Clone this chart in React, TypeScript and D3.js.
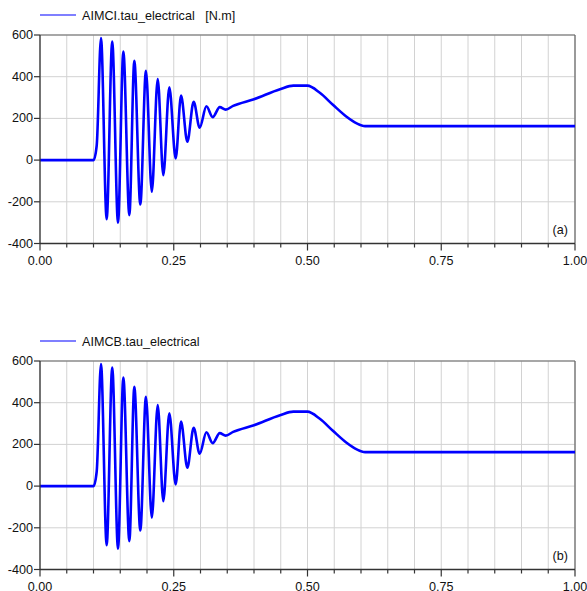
import React from 'react';
import * as d3 from 'd3';

// simulated torque (time in s, torque in N.m)
const timeValues = [
  0, 0.1, 0.106, 0.114, 0.1246, 0.135, 0.1458, 0.1558, 0.167, 0.1763, 0.1875,
  0.198, 0.209, 0.22, 0.2305, 0.2417, 0.2536, 0.2636, 0.2754, 0.2872, 0.2985,
  0.311, 0.3228, 0.336, 0.347, 0.361, 0.4, 0.4486, 0.4735, 0.4997, 0.523,
  0.548, 0.573, 0.592, 0.6075, 1.0,
];
const torqueA = [
  0, 0, 70, 585, -284, 569, -300, 521, -264, 476, -213,
  428, -152, 389, -72, 349, 8, 309, 88, 280, 155,
  258, 206, 254, 242, 260, 292, 340, 357, 357, 323,
  264, 208, 176, 163, 163,
];
const torqueB = torqueA.slice();

const legendA = 'AIMCI.tau_electrical   [N.m]';
const legendB = 'AIMCB.tau_electrical';
const panelTags = ['(a)', '(b)'];

const xTicks = [0, 0.25, 0.5, 0.75, 1];
const xGrid = d3.range(0, 1.0001, 0.05);
const yTicks = [-400, -200, 0, 200, 400, 600];

const left = 40;
const right = 575;
const font = '"Liberation Sans", Arial, sans-serif';
const fs = 12.6;

function Panel({top, values, label, tag}: {top: number; values: number[]; label: string; tag: string}) {
  const x = d3.scaleLinear().domain([0, 1]).range([left, right]);
  const y = d3.scaleLinear().domain([-400, 600]).range([top + 208.5, top]);
  const pts = timeValues.map((t, i) => [t, values[i]] as [number, number]);
  const line = d3.line<[number, number]>()
    .x(d => x(d[0]))
    .y(d => y(d[1]))
    .curve(d3.curveMonotoneX);
  const bottom = y(-400);
  const clipId = 'clip' + top;

  return (
    <g>
      <defs>
        <clipPath id={clipId}>
          <rect x={left} y={top} width={right - left} height={bottom - top} />
        </clipPath>
      </defs>
      {/* legend */}
      <line x1={40} x2={76} y1={top - 20} y2={top - 20} stroke="#0000ff" strokeWidth={1.2} />
      <text x={82} y={top - 15.5} fontFamily={font} fontSize={fs} fill="#111" style={{whiteSpace: 'pre'}}>{label}</text>
      {/* grid */}
      {xGrid.map((t, i) => (
        <line key={'gx' + i} x1={x(t)} x2={x(t)} y1={top} y2={bottom} stroke="#d2d2d2" strokeWidth={1} />
      ))}
      {yTicks.map(v => (
        <line key={'gy' + v} x1={left} x2={right} y1={y(v)} y2={y(v)} stroke="#d2d2d2" strokeWidth={1} />
      ))}
      {/* frame */}
      <line x1={left} x2={right} y1={top} y2={top} stroke="#666" strokeWidth={1.2} />
      <line x1={right} x2={right} y1={top} y2={bottom} stroke="#666" strokeWidth={1.2} />
      {/* series */}
      <path d={line(pts) || ''} fill="none" stroke="#0000ff" strokeWidth={2.6} strokeLinejoin="round" clipPath={`url(#${clipId})`} />
      {/* axes */}
      <line x1={left} x2={left} y1={top} y2={bottom} stroke="#333" strokeWidth={1.3} />
      <line x1={left} x2={right} y1={bottom} y2={bottom} stroke="#333" strokeWidth={1.3} />
      {xGrid.map((t, i) => {
        const major = xTicks.some(m => Math.abs(m - t) < 1e-6);
        return <line key={'tx' + i} x1={x(t)} x2={x(t)} y1={bottom} y2={bottom + (major ? 7 : 4)} stroke="#333" strokeWidth={1.2} />;
      })}
      {xTicks.map(t => (
        <text key={'lx' + t} x={x(t)} y={bottom + 21.5} textAnchor="middle" fontFamily={font} fontSize={fs} fill="#111">{t.toFixed(2)}</text>
      ))}
      {yTicks.map(v => (
        <g key={'ty' + v}>
          <line x1={left - 6} x2={left} y1={y(v)} y2={y(v)} stroke="#333" strokeWidth={1.2} />
          <text x={33} y={y(v) + 4} textAnchor="end" fontFamily={font} fontSize={fs} fill="#111">{v}</text>
        </g>
      ))}
      <text x={568} y={bottom - 10} textAnchor="end" fontFamily={font} fontSize={fs} fill="#111">{tag}</text>
    </g>
  );
}

export default function App() {
  return (
    <svg width={587} height={591} style={{position: 'absolute', left: 0, top: 0, background: '#fff'}}>
      <rect width={587} height={591} fill="#fff" />
      <Panel top={35} values={torqueA} label={legendA} tag={panelTags[0]} />
      <Panel top={361} values={torqueB} label={legendB} tag={panelTags[1]} />
    </svg>
  );
}
